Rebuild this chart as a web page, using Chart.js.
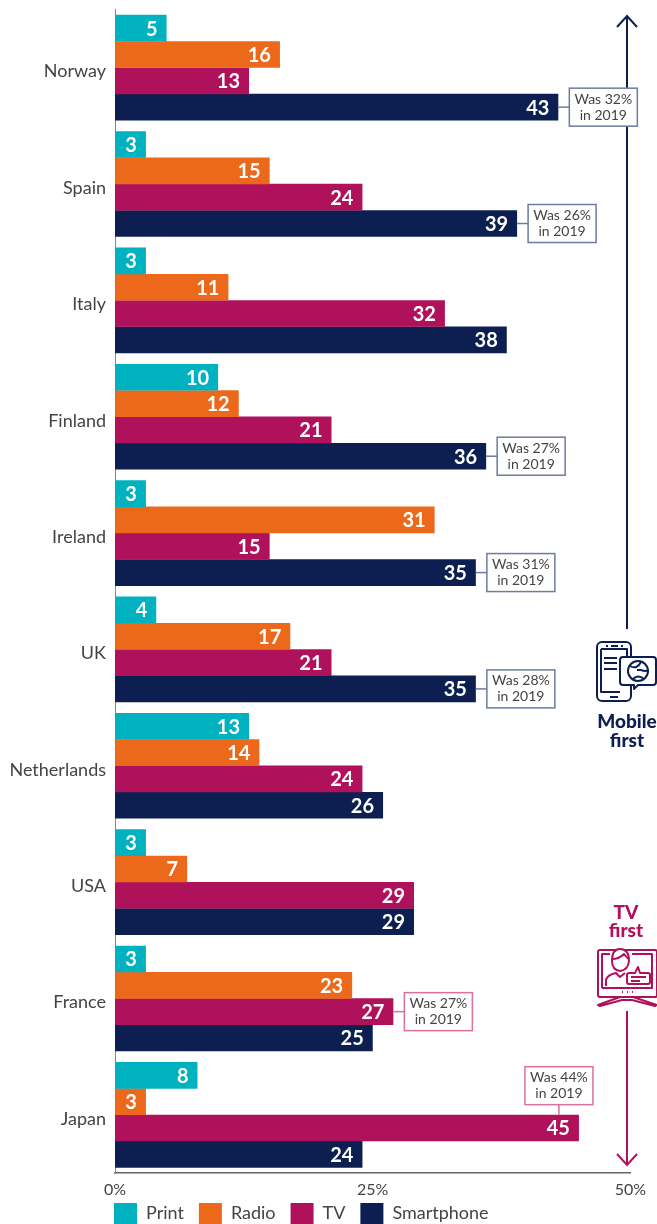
<!DOCTYPE html>
<html>
<head>
<meta charset="utf-8">
<style>
  html, body { margin: 0; padding: 0; background: #fff; }
  #wrap { position: relative; width: 657px; height: 1224px; overflow: hidden; }
  #overlay { position: absolute; left: 0; top: 0; }
  #overlay text { font-family: Lato, sans-serif; font-weight: 900; font-size: 19px; text-anchor: middle; }
</style>
</head>
<body>
<div id="wrap">
  <canvas id="chart" width="657" height="1224"></canvas>
  <svg id="overlay" width="657" height="1224" fill="none" stroke-width="2" stroke-linejoin="round">
    <!-- Mobile first icon -->
    <g stroke="#0d1f50">
      <rect x="597" y="642" width="34" height="59" rx="5"/>
      <path d="M601 649V692H620M601 649H627V657"/>
      <path d="M604 658H617M604 663H617M604 669H617M606 646H608M611 646H618M621 646H623M610 697H618"/>
      <path d="M623 657H653Q656 657 656 660V682Q656 685 653 685H638L634 689V685H623Q620 685 620 682V660Q620 657 623 657Z" fill="#fff"/>
      <circle cx="638" cy="671" r="10"/>
      <path d="M630 666Q637 670 641 662M641 670Q646 672 648 670M633 679Q638 674 644 679M637 670L641 670"/>
    </g>
    <text x="627" y="728" fill="#0d1f50">Mobile</text>
    <text x="627" y="747" fill="#0d1f50">first</text>
    <!-- TV first icon -->
    <g stroke="#b0115b">
      <rect x="598" y="950" width="59" height="47" rx="2"/>
      <path d="M602 988H652V954H632M602 988V954H610"/>
      <path d="M620 997L598 1005L600 1006L622 1000H632L655 1006L657 1005L633 997"/>
      <path d="M622 992H623M627 992H628M632 992H633"/>
      <path d="M612 961Q612 949 620 949Q629 949 629 961Q628 970 620 971Q612 970 612 961Z" fill="#fff"/>
      <path d="M612 959Q619 959 624 954Q627 958 629 959"/>
      <path d="M606 986V980Q607 975 616 973L620 977L625 973"/>
      <path d="M629 973H635L638 967L640 973H648Q650 973 650 975V982Q650 984 648 984H629Q627 984 627 982V975Q627 973 629 973Z" fill="#fff"/>
      <path d="M631 977H646M631 981H640"/>
    </g>
    <text x="626" y="919" fill="#b0115b">TV</text>
    <text x="626" y="937" fill="#b0115b">first</text>
  </svg>
</div>
<script src="https://cdn.jsdelivr.net/npm/chart.js@4"></script>
<script>
const countries = ['Norway', 'Spain', 'Italy', 'Finland', 'Ireland', 'UK', 'Netherlands', 'USA', 'France', 'Japan'];
const printValues = [5, 3, 3, 10, 3, 4, 13, 3, 3, 8];
const radioValues = [16, 15, 11, 12, 31, 17, 14, 7, 23, 3];
const tvValues = [13, 24, 32, 21, 15, 21, 24, 29, 27, 45];
const smartphoneValues = [43, 39, 38, 36, 35, 35, 26, 29, 25, 24];
// 2019 figures shown in the callout boxes
const smartphoneWas = [32, 26, null, 27, 31, 28, null, null, null, null];
const tvWas = [null, null, null, null, null, null, null, null, 27, 44];
const xTicks = [0, 25, 50];

const NAVY = '#0d1f50';
const MAGENTA = '#b0115b';
const FONT = 'Lato, sans-serif';

function drawArrow(ctx, x, fromY, tipY, color) {
    const dir = tipY < fromY ? 1 : -1;
    ctx.strokeStyle = color;
    ctx.lineWidth = 2;
    ctx.beginPath();
    ctx.moveTo(x, fromY);
    ctx.lineTo(x, tipY);
    ctx.moveTo(x - 10, tipY + dir * 11);
    ctx.lineTo(x, tipY);
    ctx.lineTo(x + 10, tipY + dir * 11);
    ctx.stroke();
}

function drawCallout(ctx, bar, was, above, border) {
    const w = 68, h = 38, gap = above ? 10 : 11;
    let left, top;
    ctx.strokeStyle = border;
    ctx.lineWidth = 1.5;
    ctx.beginPath();
    if (above) {
        left = bar.x - 20 - w / 2;
        top = bar.y - bar.height / 2 - gap - h;
        ctx.moveTo(left + w / 2, top + h);
        ctx.lineTo(left + w / 2, top + h + gap);
    } else {
        left = bar.x + gap;
        top = bar.y - h / 2;
        ctx.moveTo(bar.x, bar.y);
        ctx.lineTo(left, bar.y);
    }
    ctx.stroke();
    ctx.fillStyle = '#fff';
    ctx.fillRect(left, top, w, h);
    ctx.strokeRect(left, top, w, h);
    ctx.fillStyle = '#444';
    ctx.font = '14px ' + FONT;
    ctx.textAlign = 'center';
    ctx.textBaseline = 'middle';
    ctx.fillText('Was ' + was + '%', left + w / 2, top + 11);
    ctx.fillText('in 2019', left + w / 2, top + 27);
}

const decorPlugin = {
    id: 'decor',
    afterLayout(chart) {
        // put the legend under the plot, lined up with the axis
        chart.legend.left = chart.chartArea.left - 16;
        chart.legend.top = 1188;
    },
    beforeDatasetsDraw(chart) {
        const ctx = chart.ctx;
        ctx.save();
        drawArrow(ctx, 627, 629, 16, NAVY);
        drawArrow(ctx, 627, 1011, 1165, MAGENTA);
        ctx.restore();
    },
    afterDatasetsDraw(chart) {
        const ctx = chart.ctx;
        ctx.save();
        chart.data.datasets.forEach((ds, i) => {
            chart.getDatasetMeta(i).data.forEach((bar, j) => {
                ctx.fillStyle = '#fff';
                ctx.font = 'bold 20px ' + FONT;
                ctx.textAlign = 'right';
                ctx.textBaseline = 'middle';
                ctx.fillText(ds.data[j], bar.x - 9, bar.y + 1);
            });
        });
        const tvBars = chart.getDatasetMeta(2).data;
        const phoneBars = chart.getDatasetMeta(3).data;
        smartphoneWas.forEach((was, j) => {
            if (was !== null) drawCallout(ctx, phoneBars[j], was, false, '#6d7ba0');
        });
        tvWas.forEach((was, j) => {
            if (was !== null) drawCallout(ctx, tvBars[j], was, countries[j] === 'Japan', '#d9709f');
        });
        ctx.restore();
    }
};

new Chart(document.getElementById('chart').getContext('2d'), {
    type: 'bar',
    data: {
        labels: countries,
        datasets: [
            { label: 'Print', data: printValues, backgroundColor: '#00b2bf' },
            { label: 'Radio', data: radioValues, backgroundColor: '#ec691c' },
            { label: 'TV', data: tvValues, backgroundColor: MAGENTA },
            { label: 'Smartphone', data: smartphoneValues, backgroundColor: NAVY }
        ]
    },
    options: {
        indexAxis: 'y',
        responsive: false,
        animation: false,
        devicePixelRatio: 1,
        categoryPercentage: 0.905,
        barPercentage: 1.012,
        layout: { padding: { top: 9.5, right: 26.5, bottom: -25, left: 0 } },
        scales: {
            x: {
                min: 0,
                max: 50,
                afterBuildTicks: scale => { scale.ticks = xTicks.map(v => ({ value: v })); },
                afterFit: scale => { scale.height = 30; },
                grid: { display: false, drawTicks: false },
                border: { color: '#666', width: 1.5 },
                ticks: {
                    callback: v => v + '%',
                    color: '#444',
                    padding: 7,
                    maxRotation: 0,
                    font: { family: FONT, size: 16 }
                }
            },
            y: {
                afterFit: scale => {
                    scale.width = 115;
                    scale.paddingTop = 0;
                    scale.paddingBottom = 0;
                    // country names sit a little below the middle of their group
                    const compute = scale._computeLabelItems;
                    scale._computeLabelItems = function (area) {
                        const items = compute.call(this, area);
                        items.forEach(item => { item.options.translation[1] += 2; });
                        return items;
                    };
                },
                grid: { display: false, drawTicks: false },
                border: { color: '#888', width: 1 },
                ticks: {
                    color: '#444',
                    padding: 9,
                    font: { family: FONT, size: 18 }
                }
            }
        },
        plugins: {
            tooltip: { enabled: false },
            legend: {
                position: 'bottom',
                align: 'start',
                labels: {
                    boxWidth: 23,
                    boxHeight: 21,
                    padding: 15,
                    color: '#444',
                    font: { family: FONT, size: 18 }
                }
            }
        }
    },
    plugins: [decorPlugin]
});
</script>
</body>
</html>
